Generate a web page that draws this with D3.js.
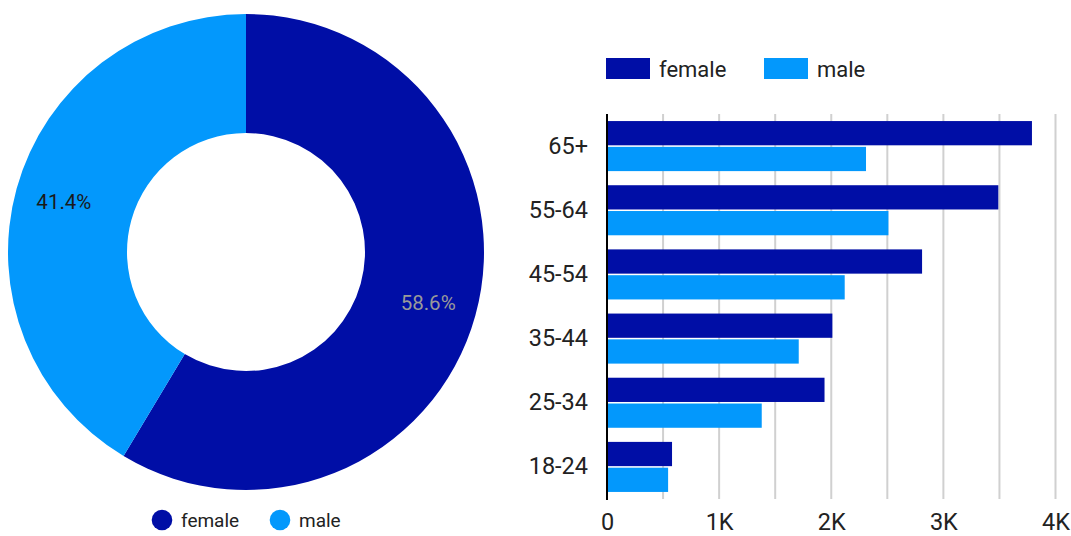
<!DOCTYPE html>
<html><head><meta charset="utf-8">
<script src="https://cdn.jsdelivr.net/npm/d3@7"></script>
<style>body{margin:0;background:#fff;font-family:Roboto,sans-serif}</style>
</head><body>
<svg id="c" width="1071" height="536"></svg>
<script>
const genders = ["female", "male"];
const shares = [58.6, 41.4];
const ageGroups = ["65+", "55-64", "45-54", "35-44", "25-34", "18-24"];
const femaleValues = [3790, 3490, 2810, 2010, 1940, 580];
const maleValues = [2310, 2510, 2120, 1710, 1380, 545];
const xTicks = [0, 1000, 2000, 3000, 4000];
const xTickLabels = ["0", "1K", "2K", "3K", "4K"];

const colors = d3.scaleOrdinal().domain(genders).range(["#000ea6", "#0398fc"]);
const svg = d3.select("#c");

// Donut
const cx = 246, cy = 252, R = 238, r0 = 119;
const pie = d3.pie().sort(null).value(d => d.v);
const arcs = pie(genders.map((g, i) => ({g, v: shares[i]})));
const arc = d3.arc().innerRadius(r0).outerRadius(R);
const labArc = d3.arc().innerRadius(189).outerRadius(189);
const dg = svg.append("g").attr("transform", `translate(${cx},${cy})`);
dg.selectAll("path").data(arcs).join("path").attr("d", arc).attr("fill", d => colors(d.data.g));
dg.selectAll("text").data(arcs).join("text")
  .attr("transform", d => `translate(${labArc.centroid(d)})`)
  .attr("text-anchor", "middle").attr("dy", "0.35em")
  .attr("font-size", 20.5)
  .attr("fill", d => d.data.g === "female" ? "#9a9a9a" : "#1a1a1a")
  .text(d => d.data.v.toFixed(1) + "%");

// Donut legend
const dl = svg.append("g");
const dlx = [162, 280];
genders.forEach((g, i) => {
  dl.append("circle").attr("cx", dlx[i]).attr("cy", 520).attr("r", 10.3).attr("fill", colors(g));
  dl.append("text").attr("x", dlx[i] + 19).attr("y", 520).attr("dy", "0.35em")
    .attr("font-size", 19).attr("fill", "#222").text(g);
});

// Bar chart
const x = d3.scaleLinear().domain([0, 4000]).range([607, 1055.5]);
const y = d3.scaleBand().domain(ageGroups).range([114, 499]).paddingInner(0.22).paddingOuter(0.11);
const y1 = d3.scaleBand().domain(genders).range([0, y.bandwidth()]).paddingInner(0.06);

const grid = d3.range(500, 4001, 500);
svg.append("g").selectAll("line").data(grid).join("line")
  .attr("x1", d => x(d)).attr("x2", d => x(d)).attr("y1", 114).attr("y2", 499)
  .attr("stroke", "#d0d0d0").attr("stroke-width", 2);

const rows = ageGroups.map((a, i) => ({a, vals: [femaleValues[i], maleValues[i]]}));
const bg = svg.append("g");
rows.forEach(row => {
  genders.forEach((g, j) => {
    bg.append("rect")
      .attr("x", x(0)).attr("y", y(row.a) + y1(g))
      .attr("width", x(row.vals[j]) - x(0)).attr("height", y1.bandwidth())
      .attr("fill", colors(g));
  });
});

svg.append("line").attr("x1", 607).attr("x2", 607).attr("y1", 114).attr("y2", 500)
  .attr("stroke", "#000").attr("stroke-width", 2);

const yAxis = svg.append("g").attr("transform", "translate(588,0)")
  .call(d3.axisLeft(y).tickSize(0).tickPadding(0));
yAxis.select(".domain").remove();
yAxis.selectAll("text").attr("font-size", 23.5).attr("fill", "#222").attr("font-family", "Roboto, sans-serif");

const xAxis = svg.append("g").attr("transform", "translate(0,507)")
  .call(d3.axisBottom(x).tickValues(xTicks).tickFormat((d, i) => xTickLabels[i]).tickSize(0).tickPadding(6));
xAxis.select(".domain").remove();
xAxis.selectAll("text").attr("font-size", 23.5).attr("fill", "#222").attr("font-family", "Roboto, sans-serif");

// Bar legend
const bl = svg.append("g");
const blx = [606, 764];
genders.forEach((g, i) => {
  bl.append("rect").attr("x", blx[i]).attr("y", 58).attr("width", 44).attr("height", 21).attr("fill", colors(g));
  bl.append("text").attr("x", blx[i] + 53).attr("y", 69).attr("dy", "0.35em")
    .attr("font-size", 22).attr("fill", "#222").text(g);
});
</script>
</body></html>
